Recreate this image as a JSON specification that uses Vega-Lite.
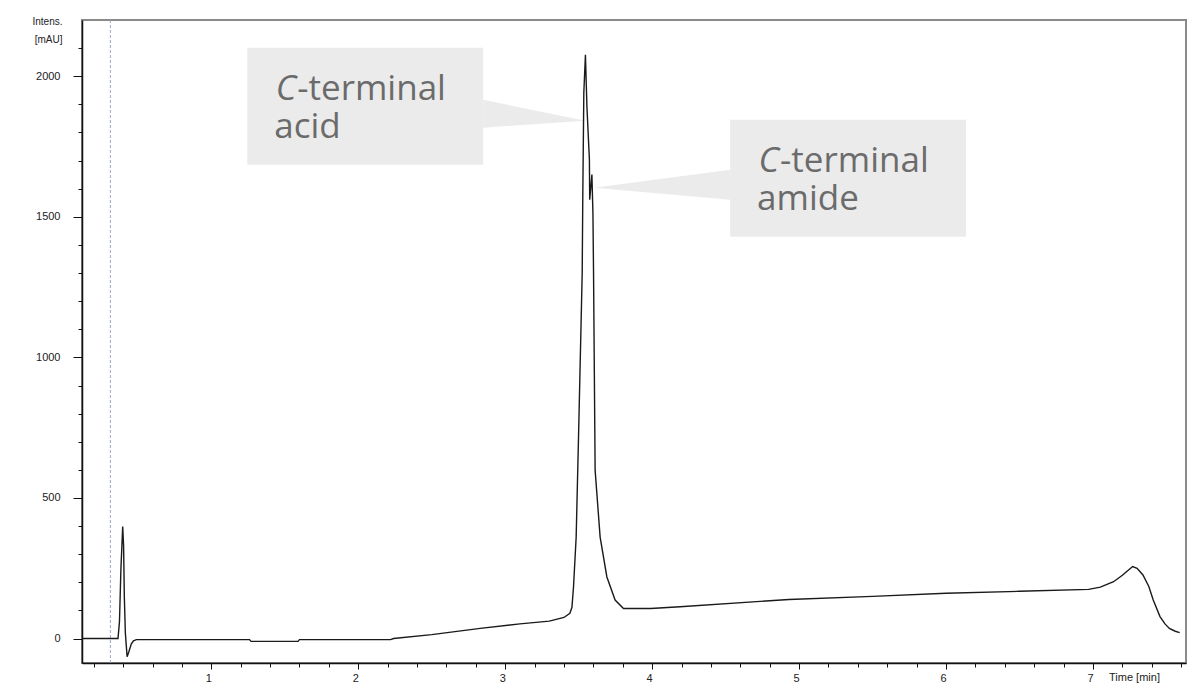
{
  "$schema": "https://vega.github.io/schema/vega-lite/v6.json",
  "width": 1104,
  "height": 643,
  "autosize": {"type": "none"},
  "padding": {"left": 82, "top": 20, "right": 12, "bottom": 27},
  "background": "white",
  "config": {
    "view": {"stroke": "#8a8a8a", "strokeWidth": 2},
    "axis": {"grid": false, "labelFont": "Liberation Sans", "titleFont": "Liberation Sans", "labelColor": "#222", "titleColor": "#222", "domainColor": "#111", "tickColor": "#111", "domainWidth": 1.5, "labelOverlap": false}
  },
  "datasets": {
    "trace": [
      {"t": 0.12, "v": 0}, {"t": 0.365, "v": 0}, {"t": 0.375, "v": 60}, {"t": 0.385, "v": 250},
      {"t": 0.397, "v": 398}, {"t": 0.403, "v": 330}, {"t": 0.408, "v": 150}, {"t": 0.415, "v": 20},
      {"t": 0.427, "v": -65}, {"t": 0.44, "v": -45}, {"t": 0.455, "v": -20}, {"t": 0.47, "v": -8},
      {"t": 0.49, "v": -4}, {"t": 1.26, "v": -4}, {"t": 1.27, "v": -10}, {"t": 1.59, "v": -10},
      {"t": 1.6, "v": -4}, {"t": 2.22, "v": -4}, {"t": 2.24, "v": 0}, {"t": 2.5, "v": 14},
      {"t": 2.83, "v": 36}, {"t": 3.1, "v": 52}, {"t": 3.3, "v": 62}, {"t": 3.4, "v": 75},
      {"t": 3.44, "v": 90}, {"t": 3.454, "v": 110}, {"t": 3.465, "v": 184}, {"t": 3.483, "v": 362},
      {"t": 3.499, "v": 718}, {"t": 3.524, "v": 1300}, {"t": 3.528, "v": 1572}, {"t": 3.535, "v": 1941},
      {"t": 3.546, "v": 2076}, {"t": 3.556, "v": 1893}, {"t": 3.573, "v": 1704}, {"t": 3.575, "v": 1561},
      {"t": 3.59, "v": 1650}, {"t": 3.597, "v": 1514}, {"t": 3.601, "v": 1310}, {"t": 3.612, "v": 598},
      {"t": 3.646, "v": 361}, {"t": 3.692, "v": 219}, {"t": 3.748, "v": 137}, {"t": 3.805, "v": 107},
      {"t": 3.99, "v": 107}, {"t": 4.19, "v": 113}, {"t": 4.93, "v": 139}, {"t": 5.5, "v": 150},
      {"t": 6.0, "v": 161}, {"t": 6.5, "v": 168}, {"t": 6.97, "v": 175}, {"t": 7.05, "v": 183},
      {"t": 7.14, "v": 202}, {"t": 7.2, "v": 225}, {"t": 7.27, "v": 256}, {"t": 7.3, "v": 250},
      {"t": 7.34, "v": 226}, {"t": 7.38, "v": 185}, {"t": 7.41, "v": 137}, {"t": 7.456, "v": 78},
      {"t": 7.49, "v": 52}, {"t": 7.52, "v": 36}, {"t": 7.56, "v": 26}, {"t": 7.59, "v": 21}
    ],
    "boxes": [
      {"t1": 1.245, "t2": 2.85, "v1": 2101, "v2": 1685},
      {"t1": 4.531, "t2": 6.136, "v1": 1845, "v2": 1429}
    ],
    "pointers": [
      {"g": "acid", "t": 2.85, "va": 1916, "vb": 1817},
      {"g": "acid", "t": 3.544, "va": 1842, "vb": 1842},
      {"g": "amide", "t": 4.531, "va": 1667, "vb": 1561},
      {"g": "amide", "t": 3.605, "va": 1603, "vb": 1603}
    ],
    "labels": [
      {"t": 1.578, "v": 1916, "part": "C", "text": "C"},
      {"t": 1.578, "v": 1916, "part": "rest", "text": "-terminal"},
      {"t": 1.422, "v": 1781, "part": "rest", "text": "acid"},
      {"t": 4.864, "v": 1660, "part": "C", "text": "C"},
      {"t": 4.864, "v": 1660, "part": "rest", "text": "-terminal"},
      {"t": 4.707, "v": 1525, "part": "rest", "text": "amide"}
    ],
    "marker": [{"t": 0.313}]
  },
  "layer": [
    {
      "data": {"name": "marker"},
      "mark": {"type": "rule", "color": "#9aa8c8", "strokeDash": [3, 2], "strokeWidth": 1},
      "encoding": {"x": {"field": "t", "type": "quantitative"}}
    },
    {
      "data": {"name": "boxes"},
      "mark": {"type": "rect", "color": "#ebebeb"},
      "encoding": {
        "x": {"field": "t1", "type": "quantitative"},
        "x2": {"field": "t2"},
        "y": {"field": "v1", "type": "quantitative"},
        "y2": {"field": "v2"}
      }
    },
    {
      "data": {"name": "pointers"},
      "mark": {"type": "area", "color": "#ebebeb", "opacity": 1},
      "encoding": {
        "x": {"field": "t", "type": "quantitative"},
        "y": {"field": "va", "type": "quantitative", "stack": null},
        "y2": {"field": "vb"},
        "detail": {"field": "g"}
      }
    },
    {
      "data": {"name": "labels"},
      "transform": [{"filter": "datum.part === 'C'"}],
      "mark": {"type": "text", "align": "right", "baseline": "alphabetic", "font": "Open Sans", "fontSize": 35, "fontStyle": "italic", "color": "#6b6b6b"},
      "encoding": {
        "x": {"field": "t", "type": "quantitative"},
        "y": {"field": "v", "type": "quantitative"},
        "text": {"field": "text"}
      }
    },
    {
      "data": {"name": "labels"},
      "transform": [{"filter": "datum.part === 'rest'"}],
      "mark": {"type": "text", "align": "left", "baseline": "alphabetic", "font": "Open Sans", "fontSize": 35, "color": "#6b6b6b", "dx": 1},
      "encoding": {
        "x": {"field": "t", "type": "quantitative"},
        "y": {"field": "v", "type": "quantitative"},
        "text": {"field": "text"}
      }
    },
    {
      "data": {"name": "trace"},
      "mark": {"type": "line", "color": "#1a1a1a", "strokeWidth": 1.4, "clip": true},
      "encoding": {
        "x": {
          "field": "t", "type": "quantitative",
          "scale": {"domain": [0.12, 7.633], "nice": false, "zero": false},
          "axis": {
            "values": [0.2, 0.4, 0.6, 0.8, 1, 1.2, 1.4, 1.6, 1.8, 2, 2.2, 2.4, 2.6, 2.8, 3, 3.2, 3.4, 3.6, 3.8, 4, 4.2, 4.4, 4.6, 4.8, 5, 5.2, 5.4, 5.6, 5.8, 6, 6.2, 6.4, 6.6, 6.8, 7, 7.2, 7.4, 7.6],
            "tickCount": 200,
            "labelExpr": "abs(datum.value - round(datum.value)) < 0.001 ? format(datum.value, 'd') : ''",
            "tickSize": {"condition": {"test": "abs(datum.value - round(datum.value)) < 0.001", "value": 6}, "value": 4},
            "labelOverlap": false,
            "labelFontSize": 11,
            "labelPadding": 3,
            "labelOffset": -3,
            "title": "Time [min]",
            "titleFontSize": 11,
            "titleFontWeight": "normal",
            "titleAnchor": "start",
            "titleAlign": "center",
            "titleBaseline": "middle",
            "titleX": 1052,
            "titleY": 14
          }
        },
        "y": {
          "field": "v", "type": "quantitative",
          "scale": {"domain": [-87, 2200], "nice": false, "zero": false},
          "axis": {
            "values": [0, 100, 200, 300, 400, 500, 600, 700, 800, 900, 1000, 1100, 1200, 1300, 1400, 1500, 1600, 1700, 1800, 1900, 2000, 2100],
            "tickCount": 200,
            "labelExpr": "datum.value % 500 === 0 ? datum.value : ''",
            "tickSize": {"condition": {"test": "datum.value % 500 === 0", "value": 9}, "value": 4},
            "labelOverlap": false,
            "labelFontSize": 11,
            "labelPadding": 13,
            "title": ["Intens.", "[mAU]"],
            "titleFontSize": 10,
            "titleFontWeight": "normal",
            "titleAngle": 0,
            "titleAlign": "right",
            "titleBaseline": "top",
            "titleLineHeight": 18,
            "titleX": -20,
            "titleY": -4
          }
        }
      }
    }
  ]
}
